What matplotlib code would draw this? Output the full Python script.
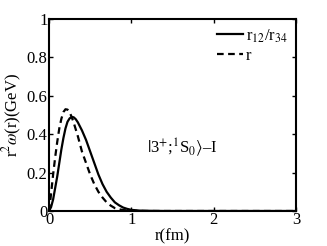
import matplotlib
matplotlib.use("Agg")
import matplotlib.pyplot as plt

# values
r_solid = [0, 0.025, 0.05, 0.075, 0.1, 0.125, 0.15, 0.175, 0.2, 0.225, 0.25, 0.275, 0.3, 0.325, 0.35,
           0.4, 0.45, 0.5, 0.55, 0.6, 0.65, 0.7, 0.75, 0.8, 0.85, 0.9, 0.95, 1.0, 1.1, 1.2, 1.4, 2.0, 3.0]
w_solid = [0, 0.02, 0.06, 0.12, 0.18, 0.25, 0.32, 0.38, 0.43, 0.465, 0.482, 0.49, 0.488, 0.478, 0.462,
           0.42, 0.37, 0.31, 0.25, 0.19, 0.14, 0.10, 0.07, 0.045, 0.03, 0.018, 0.011, 0.006, 0.002, 0.001, 0, 0, 0]

r_dash = [0, 0.015, 0.03, 0.05, 0.075, 0.1, 0.125, 0.15, 0.175, 0.2, 0.225, 0.25, 0.275, 0.3, 0.35,
          0.4, 0.45, 0.5, 0.55, 0.6, 0.65, 0.7, 0.75, 0.8, 0.85, 0.9, 1.0, 1.2, 2.0, 3.0]
w_dash = [0, 0.05, 0.11, 0.19, 0.28, 0.36, 0.43, 0.48, 0.515, 0.53, 0.528, 0.515, 0.49, 0.46, 0.39,
          0.31, 0.25, 0.19, 0.14, 0.10, 0.07, 0.045, 0.028, 0.015, 0.009, 0.005, 0.001, 0, 0, 0]

plt.rcParams['font.family'] = ['Liberation Serif', 'DejaVu Serif']
plt.rcParams['mathtext.fontset'] = 'stix'

fig = plt.figure(figsize=(3.27, 2.46), dpi=100)
ax = fig.add_axes([49/327, 35/246, 247/327, 192/246])

ax.plot(r_solid, w_solid, color='black', linestyle='-', lw=1.6, label='r$_{12}$/r$_{34}$')
ax.plot(r_dash, w_dash, color='black', linestyle=(0, (3, 2)), lw=1.6, label='r')

ax.set_xlim(0, 3)
ax.set_ylim(0, 1)
ax.set_xticks([0, 1, 2, 3])
ax.set_yticks([0, 0.2, 0.4, 0.6, 0.8, 1])
ax.set_yticklabels(['0', '0.2', '0.4', '0.6', '0.8', '1'])
ax.tick_params(direction='in', top=True, right=True, labelsize=12, length=3, width=1, pad=1)
for s in ax.spines.values():
    s.set_linewidth(1.5)

ax.set_xlabel('r(fm)', fontsize=12, labelpad=0)
ax.set_ylabel(r'r$^2\omega$(r)(GeV)', fontsize=12, labelpad=2)

ax.legend(loc='upper right', frameon=False, fontsize=12, handlelength=1.6,
          handletextpad=0.15, labelspacing=0.2, borderaxespad=0.1)
ax.text(1.62, 0.33, r'$|$3$^{+}$;$^{1}$S$_{0}\rangle$–I', fontsize=12, ha='center', va='center')

fig.savefig('out.png', dpi=100)
